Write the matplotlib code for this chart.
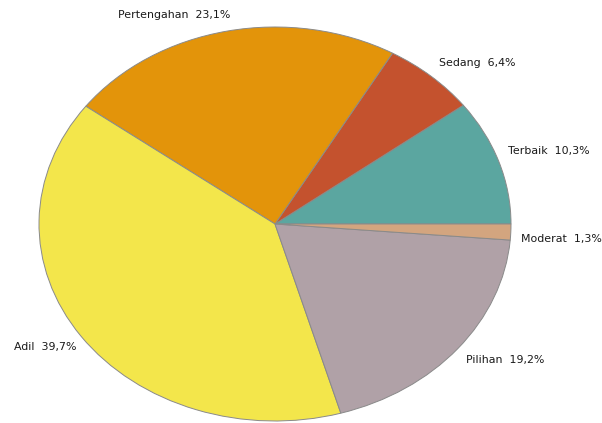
import matplotlib
matplotlib.use("Agg")
from matplotlib import pyplot as plt

# Data
labels = ['Terbaik', 'Sedang', 'Pertengahan', 'Adil', 'Pilihan', 'Moderat']
values = [10.3, 6.4, 23.1, 39.7, 19.2, 1.3]
colors = ['#5ba6a0', '#c4522e', '#e3940a', '#f3e64b', '#b0a1a7', '#d3a57f']
# label anchor points (in pie data units, left aligned)
label_pos = [(0.987, 0.369), (0.695, 0.817), (-0.665, 1.061),
             (-1.106, -0.624), (0.809, -0.690), (1.042, -0.076)]

fig = plt.figure(figsize=(6.02, 4.23), dpi=100)
# axes sized in pixels so the pie becomes an ellipse
cx, cy, rx, ry = 275, 224, 236, 197
ax = fig.add_axes([(cx - rx) / 602, (423 - cy - ry) / 423, 2 * rx / 602, 2 * ry / 423])
ax.pie(values, colors=colors, startangle=0, counterclock=True,
       wedgeprops=dict(edgecolor='#8a8a8a', linewidth=0.7))
ax.set_aspect('auto')
ax.set_xlim(-1, 1)
ax.set_ylim(-1, 1)
ax.axis('off')

for name, v, (x, y) in zip(labels, values, label_pos):
    txt = name + '  ' + ('%.1f' % v).replace('.', ',') + '%'
    ax.text(x, y, txt, ha='left', va='center', fontsize=7.9, color='#1a1a1a',
            family='DejaVu Sans', clip_on=False)

fig.savefig('out.png', dpi=100, facecolor='white')
